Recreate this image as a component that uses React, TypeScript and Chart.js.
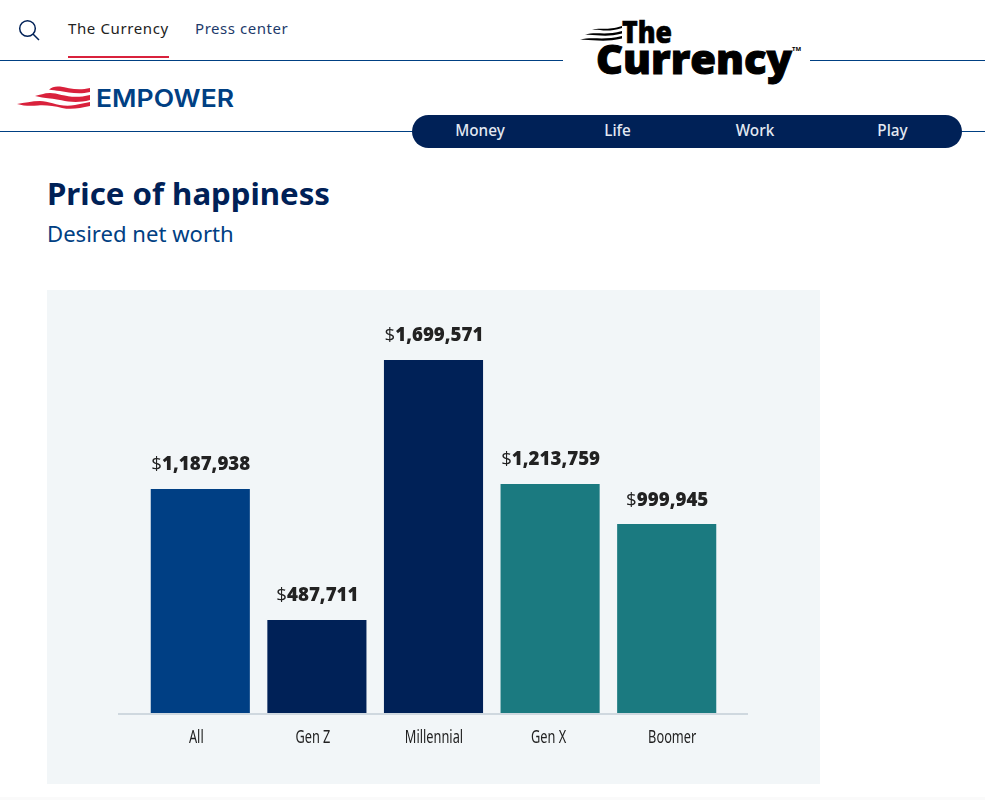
import { useEffect, useRef } from 'react';
import Chart from 'chart.js/auto';

const categories = ['All', 'Gen Z', 'Millennial', 'Gen X', 'Boomer'];
// printed above the bars
const netWorth = [1187938, 487711, 1699571, 1213759, 999945];
// bar heights as drawn: the Millennial bar is taller than its label says
const drawnHeights = [1187000, 493000, 1870000, 1213000, 1001000];
const barColors = ['#003f84', '#002157', '#002157', '#1b7a80', '#1b7a80'];
const navItems = ['Money', 'Life', 'Work', 'Play'];
// the labels in the reference are not quite centred under the bars
const tickNudge = [-4, -4, 0.5, -1.5, 5.5];

const NAVY = '#002157';
const LINE = '#004083';
const sans = '"Noto Sans", sans-serif';
const labelFont = '"Open Sans", "Noto Sans", sans-serif';

// "$" is regular weight, the number is extra bold, centred over the bar
const valueLabels = {
  id: 'valueLabels',
  afterDatasetsDraw(chart: any) {
    const { ctx } = chart;
    const bars = chart.getDatasetMeta(0).data;
    ctx.save();
    ctx.textBaseline = 'alphabetic';
    ctx.textAlign = 'left';
    ctx.fillStyle = '#222222';
    bars.forEach((bar: any, i: number) => {
      const num = netWorth[i].toLocaleString('en-US');
      ctx.font = `400 18.7px ${labelFont}`;
      const dollarW = ctx.measureText('$').width;
      ctx.font = `800 18.7px ${labelFont}`;
      const numW = ctx.measureText(num).width;
      const x = bar.x - (dollarW + numW) / 2 + 0.5;
      const y = bar.y - 18.5;
      ctx.font = `400 18.7px ${labelFont}`;
      ctx.fillText('$', x, y);
      ctx.font = `800 18.7px ${labelFont}`;
      ctx.fillText(num, x + dollarW, y);
    });
    ctx.restore();
  },
};

// baseline runs past the first and last bars, tick labels are squeezed narrow
const baseline = {
  id: 'baseline',
  afterDatasetsDraw(chart: any) {
    const { ctx, chartArea } = chart;
    const y = chart.scales.y.getPixelForValue(0);
    ctx.save();
    ctx.strokeStyle = '#cfd8df';
    ctx.lineWidth = 2;
    ctx.beginPath();
    ctx.moveTo(chartArea.left - 24, y + 1);
    ctx.lineTo(chartArea.right + 23, y + 1);
    ctx.stroke();
    ctx.fillStyle = '#222222';
    ctx.textAlign = 'center';
    ctx.textBaseline = 'middle';
    ctx.font = `400 18px ${sans}`;
    categories.forEach((label, i) => {
      const x = chart.scales.x.getPixelForTick(i) + tickNudge[i];
      ctx.save();
      ctx.translate(x, y + 25);
      ctx.scale(0.71, 1);
      ctx.fillText(label, 0, 0);
      ctx.restore();
    });
    ctx.restore();
  },
};

function BarChart() {
  const canvasRef = useRef<HTMLCanvasElement>(null);

  useEffect(() => {
    if (!canvasRef.current) return;
    const chart = new Chart(canvasRef.current, {
      type: 'bar',
      data: {
        labels: categories,
        datasets: [
          {
            data: drawnHeights,
            backgroundColor: barColors,
            barPercentage: 0.85,
            categoryPercentage: 1,
          },
        ],
      },
      options: {
        responsive: false,
        animation: false,
        devicePixelRatio: 1,
        layout: { padding: { left: 95, right: 95, top: 45.4, bottom: 71 } },
        plugins: { legend: { display: false }, tooltip: { enabled: false } },
        scales: {
          x: { display: false },
          y: { display: false, min: 0, max: 2000000 },
        },
      },
      plugins: [valueLabels, baseline],
    } as any);
    return () => chart.destroy();
  }, []);

  return <canvas ref={canvasRef} width={773} height={494} style={{ display: 'block' }} />;
}

function Rule({ x, y, w }: { x: number; y: number; w: number }) {
  return <div style={{ position: 'absolute', left: x, top: y, width: w, height: 1, background: LINE }} />;
}

function Abs({ x, y, style, children }: any) {
  return (
    <div style={{ position: 'absolute', left: x, top: y, whiteSpace: 'nowrap', ...style }}>{children}</div>
  );
}

export default function App() {
  return (
    <div
      style={{
        position: 'fixed',
        left: 0,
        top: 0,
        width: 985,
        height: 800,
        overflow: 'hidden',
        background: '#fff',
        fontFamily: sans,
      }}
    >
      {/* search icon */}
      <svg style={{ position: 'absolute', left: 18, top: 19 }} width="22" height="22" viewBox="0 0 22 22">
        <circle cx="9.5" cy="9.5" r="7.8" fill="none" stroke={NAVY} strokeWidth="1.5" />
        <line x1="15" y1="15" x2="21" y2="21" stroke={NAVY} strokeWidth="1.5" />
      </svg>

      <Abs x={68} y={18} style={{ fontSize: 15, letterSpacing: 0.62, color: '#222', lineHeight: '20px' }}>
        The Currency
      </Abs>
      <Abs x={195} y={18} style={{ fontSize: 15, letterSpacing: 0.55, color: '#1d3a6b', lineHeight: '20px' }}>
        Press center
      </Abs>
      <div style={{ position: 'absolute', left: 68, top: 56, width: 101, height: 2, background: '#d9213c' }} />

      <Rule x={0} y={60} w={563} />
      <Rule x={810} y={60} w={175} />
      <Rule x={0} y={131} w={412} />
      <Rule x={962} y={131} w={23} />

      {/* Empower logo */}
      <svg style={{ position: 'absolute', left: 0, top: 80 }} width="250" height="34" viewBox="0 0 250 34">
        <path d="M49 9.5 C52 7 55 6 60 6.5 C68 8 78 11 90 8 L90 12 C78 15 68 12 60 11 C56 10.5 52 10 49 9.5Z" fill="#d9213c" />
        <path d="M35 16 C40 15 44 13 50 13 C60 13 70 20 90 15 L90 20 C72 25 60 19 50 18.5 C44 18 40 17 35 16Z" fill="#d9213c" />
        <path d="M17 24 C24 23 32 21 40 21 C50 21 60 28 75 25 C80 24 85 23 90 22 L90 26 C80 28 72 30 62 28 C54 26 46 25 38 25.5 C30 26 24 26 17 24Z" fill="#d9213c" />
        <text x="96" y="27" textLength="138" lengthAdjust="spacingAndGlyphs" fontFamily="Inter, sans-serif" fontWeight="600" fontSize="24.500" fill={LINE}>
          EMPOWER
        </text>
      </svg>

      {/* The Currency logo */}
      <svg style={{ position: 'absolute', left: 575, top: 15 }} width="235" height="75" viewBox="0 0 235 75">
        <path d="M17 15 C24 12 32 16 47 11 L47 13 C32 18 24 14 17 15Z" fill="#000" />
        <path d="M10 20 C20 16 30 21 47 16 L47 18.500 C30 23 20 19 10 20Z" fill="#000" />
        <path d="M5 25 C16 21 28 26 47 21 L47 23.500 C28 28 16 24 5 25Z" fill="#000" />
        <text x="47" y="28" textLength="50" lengthAdjust="spacingAndGlyphs" fontFamily={labelFont} fontWeight="800" fontSize="30" fill="#000" stroke="#000" strokeWidth="0.6">
          The
        </text>
        <text x="21" y="59" textLength="196" lengthAdjust="spacingAndGlyphs" fontFamily={labelFont} fontWeight="800" fontSize="40" fill="#000" stroke="#000" strokeWidth="1">
          Currency
        </text>
        <text x="217" y="36" fontFamily={sans} fontWeight="700" fontSize="6" fill="#000">
          TM
        </text>
      </svg>

      {/* nav pill */}
      <div style={{ position: 'absolute', left: 412, top: 115, width: 550, height: 33, borderRadius: 17, background: NAVY }} />
      {navItems.map((item, i) => (
        <div
          key={item}
          style={{
            position: 'absolute',
            left: 411.5 + 137.5 * i,
            top: 115,
            width: 137,
            height: 33,
            lineHeight: '31px',
            textAlign: 'center',
            color: '#e3e9f2',
            fontSize: 15.3,
            fontWeight: 500,
          }}
        >
          {item}
        </div>
      ))}

      <Abs x={47} y={171} style={{ fontSize: 31.2, fontWeight: 700, color: NAVY, lineHeight: '44px' }}>
        Price of happiness
      </Abs>
      <Abs x={47} y={218} style={{ fontSize: 22.1, color: LINE, lineHeight: '30px' }}>
        Desired net worth
      </Abs>

      <div style={{ position: 'absolute', left: 47, top: 290, width: 773, height: 494, background: '#f2f6f8' }}>
        <BarChart />
      </div>

      <div style={{ position: 'absolute', left: 0, top: 797, width: 985, height: 3, background: '#fafafa' }} />
    </div>
  );
}
